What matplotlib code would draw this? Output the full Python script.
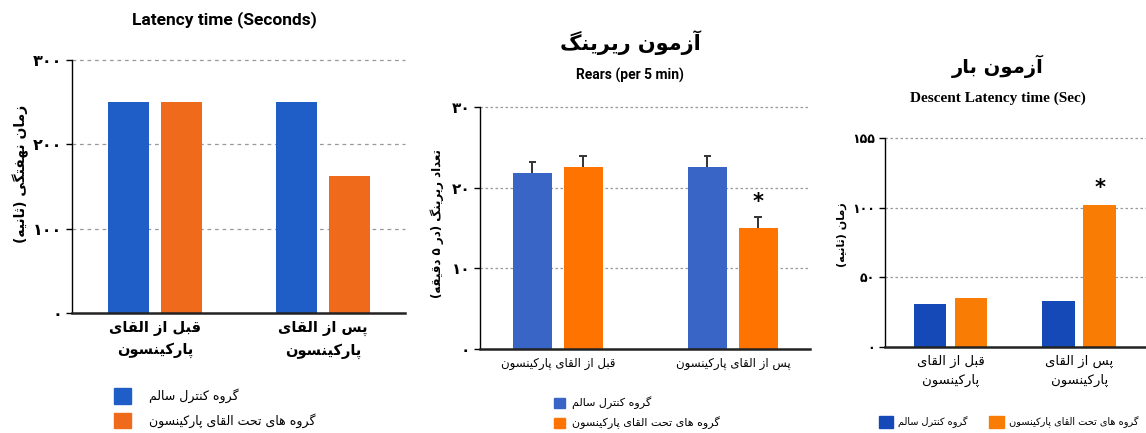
import re
import matplotlib
matplotlib.use('Agg')
import matplotlib.pyplot as plt
from matplotlib.patches import Patch

# data
groups = ['قبل از القای\nپارکینسون', 'پس از القای\nپارکینسون']
groups_one_line = ['قبل از القای پارکینسون', 'پس از القای پارکینسون']
legend_labels = ['گروه کنترل سالم', 'گروه های تحت القای پارکینسون']

latency_control = [250, 250]
latency_pd = [250, 162]
latency_ticks = [0, 100, 200, 300]
latency_tick_labels = ['۰', '۱۰۰', '۲۰۰', '۳۰۰']

rears_control = [21.8, 22.6]
rears_pd = [22.6, 15.0]
rears_control_err = [1.4, 1.3]
rears_pd_err = [1.3, 1.4]
rears_ticks = [0, 10, 20, 30]
rears_tick_labels = ['۰', '۱۰', '۲۰', '۳۰']

bar_control = [30.9, 33.0]
bar_pd = [35.2, 102.0]
bar_ticks = [0, 50, 100, 150]
bar_tick_labels = ['۰', '۵۰', '۱۰۰', '۱۵۵']

# --- tiny arabic/persian shaper (matplotlib has no shaping, no bidi) ---
# isolated, final, initial, medial
FORMS = {
    '\u0622': ('\uFE81', '\uFE82', None, None),
    '\u0627': ('\uFE8D', '\uFE8E', None, None),
    '\u0628': ('\uFE8F', '\uFE90', '\uFE91', '\uFE92'),
    '\u067E': ('\uFB56', '\uFB57', '\uFB58', '\uFB59'),
    '\u062A': ('\uFE95', '\uFE96', '\uFE97', '\uFE98'),
    '\u062B': ('\uFE99', '\uFE9A', '\uFE9B', '\uFE9C'),
    '\u062D': ('\uFEA1', '\uFEA2', '\uFEA3', '\uFEA4'),
    '\u062F': ('\uFEA9', '\uFEAA', None, None),
    '\u0631': ('\uFEAD', '\uFEAE', None, None),
    '\u0632': ('\uFEAF', '\uFEB0', None, None),
    '\u0633': ('\uFEB1', '\uFEB2', '\uFEB3', '\uFEB4'),
    '\u0639': ('\uFEC9', '\uFECA', '\uFECB', '\uFECC'),
    '\u0641': ('\uFED1', '\uFED2', '\uFED3', '\uFED4'),
    '\u0642': ('\uFED5', '\uFED6', '\uFED7', '\uFED8'),
    '\u06A9': ('\uFB8E', '\uFB8F', '\uFB90', '\uFB91'),
    '\u06AF': ('\uFB92', '\uFB93', '\uFB94', '\uFB95'),
    '\u0644': ('\uFEDD', '\uFEDE', '\uFEDF', '\uFEE0'),
    '\u0645': ('\uFEE1', '\uFEE2', '\uFEE3', '\uFEE4'),
    '\u0646': ('\uFEE5', '\uFEE6', '\uFEE7', '\uFEE8'),
    '\u0647': ('\uFEE9', '\uFEEA', '\uFEEB', '\uFEEC'),
    '\u0648': ('\uFEED', '\uFEEE', None, None),
    '\u06CC': ('\uFBFC', '\uFBFD', '\uFBFE', '\uFBFF'),
}
MIRROR = str.maketrans('()', ')(')
DIGITS = '0-9\u06F0-\u06F9'


def shape_line(text):
    out = []
    for i, ch in enumerate(text):
        if ch not in FORMS:
            out.append(ch)
            continue
        f = FORMS[ch]
        prev = text[i - 1] if i > 0 else ''
        nxt = text[i + 1] if i < len(text) - 1 else ''
        jp = prev in FORMS and FORMS[prev][2] is not None
        jn = nxt in FORMS and f[2] is not None
        if jp and jn:
            out.append(f[3])
        elif jp:
            out.append(f[1])
        elif jn:
            out.append(f[2])
        else:
            out.append(f[0])
    s = ''.join(out)
    runs = re.findall('[' + DIGITS + ']+|[^' + DIGITS + ']+', s)
    res = []
    for r in reversed(runs):
        if re.match('[' + DIGITS + ']', r):
            res.append(r)
        else:
            res.append(r[::-1].translate(MIRROR))
    return ''.join(res)


def fa(text):
    return '\n'.join(shape_line(t) for t in text.split('\n'))


FA = 'DejaVu Sans'
W, H = 1146, 433


def px_rect(left, right, top, bottom):
    return [left / W, 1 - bottom / H, (right - left) / W, (bottom - top) / H]


def style_axes(ax, ticks, tick_labels, tick_size, grid_style):
    for s in ['top', 'right']:
        ax.spines[s].set_visible(False)
    ax.spines['left'].set_linewidth(1.0)
    ax.spines['bottom'].set_linewidth(1.8)
    ax.spines['bottom'].set_color('#222222')
    ax.set_yticks(ticks)
    ax.set_yticklabels(tick_labels, fontsize=tick_size, fontfamily=FA, fontweight='bold')
    ax.tick_params(axis='y', length=4, width=1, pad=3)
    ax.tick_params(axis='x', length=0, pad=6)
    ax.set_ylim(ticks[0], ticks[-1])
    ax.set_axisbelow(True)
    for t in ticks[1:]:
        ax.axhline(t, color='#9a9a9a', lw=0.9, ls=grid_style, zorder=0, clip_on=False)


def error_caps(ax, xs, vals, errs):
    # upper half only, like the reference
    tops = [v + e for v, e in zip(vals, errs)]
    ax.vlines(xs, vals, tops, color='#333333', lw=1.4, zorder=3)
    ax.hlines(tops, [p - 0.022 for p in xs], [p + 0.022 for p in xs], color='#333333', lw=1.4, zorder=3)


fig = plt.figure(figsize=(W / 100, H / 100), dpi=100)
fig.patch.set_facecolor('white')
x = [0, 1]

# ---------------- panel 1 ----------------
blue1, orange1 = '#1f5ec6', '#f06a1c'
ax1 = fig.add_axes(px_rect(72, 405, 60, 313))
ax1.bar([i - 0.157 for i in x], latency_control, 0.244, color=blue1)
ax1.bar([i + 0.157 for i in x], latency_pd, 0.244, color=orange1)
ax1.set_xlim(-0.494, 1.488)
style_axes(ax1, latency_ticks, latency_tick_labels, 11.5, (0, (3, 3)))
ax1.set_xticks(x)
ax1.set_xticklabels([fa(g) for g in groups], fontfamily=FA, fontweight='bold', fontsize=10.5,
                    linespacing=1.5)
ax1.set_ylabel(fa('زمان نهفتگی (ثانیه)'), fontfamily=FA, fontweight='bold', fontsize=10)
ax1.yaxis.set_label_coords(-0.13, 0.55)
fig.text(224 / W, 1 - 20 / H, 'Latency time (Seconds)', fontfamily='Roboto', fontweight='bold',
         fontsize=12.5, ha='center', va='center')
h1 = [Patch(color=blue1), Patch(color=orange1)]
ax1.legend(h1, [fa(l) for l in legend_labels], loc='upper left', bbox_to_anchor=(108 / W, 1 - 382 / H),
           bbox_transform=fig.transFigure, frameon=False, borderpad=0, handlelength=1.35,
           handleheight=1.5, handletextpad=1.4, labelspacing=0.75,
           prop={'family': FA, 'size': 9})

# ---------------- panel 2 ----------------
blue2, orange2 = '#3865c6', '#ff7400'
ax2 = fig.add_axes(px_rect(480, 810, 107, 349))
xb = [i - 0.146 for i in x]
xo = [i + 0.143 for i in x]
ax2.bar(xb, rears_control, 0.223, color=blue2)
ax2.bar(xo, rears_pd, 0.223, color=orange2)
error_caps(ax2, xb, rears_control, rears_control_err)
error_caps(ax2, xo, rears_pd, rears_pd_err)
ax2.set_xlim(-0.446, 1.44)
style_axes(ax2, rears_ticks, rears_tick_labels, 11, (0, (2, 2)))
ax2.set_xticks(x)
ax2.set_xticklabels([fa(g) for g in groups_one_line], fontfamily=FA, fontsize=8.5)
ax2.set_ylabel(fa('تعداد ریرینگ (در ۵ دقیقه)'), fontfamily=FA, fontweight='bold', fontsize=8.5)
ax2.yaxis.set_label_coords(-0.11, 0.52)
ax2.text(xo[1], rears_pd[1] + rears_pd_err[1] + 1.8, '*', ha='center', va='center',
         fontsize=15, fontweight='bold')
fig.text(630 / W, 1 - 43 / H, fa('آزمون ریرینگ'), fontfamily=FA, fontweight='bold',
         fontsize=15, ha='center', va='center')
fig.text(630 / W, 1 - 75 / H, 'Rears (per 5 min)', fontfamily='Roboto', fontweight='bold',
         fontsize=10, ha='center', va='center')
h2 = [Patch(color=blue2), Patch(color=orange2)]
ax2.legend(h2, [fa(l) for l in legend_labels], loc='upper left', bbox_to_anchor=(548 / W, 1 - 391 / H),
           bbox_transform=fig.transFigure, frameon=False, borderpad=0, handlelength=1.0,
           handleheight=1.0, handletextpad=0.7, labelspacing=0.65,
           prop={'family': FA, 'size': 8})

# ---------------- panel 3 ----------------
blue3, orange3 = '#1549b8', '#f97c05'
ax3 = fig.add_axes(px_rect(885, 1146, 138, 347))
ax3.bar([i - 0.16 for i in x], bar_control, 0.253, color=blue3)
ax3.bar([i + 0.16 for i in x], bar_pd, 0.253, color=orange3)
ax3.set_xlim(-0.51, 1.52)
style_axes(ax3, bar_ticks, bar_tick_labels, 9, (0, (2, 2)))
ax3.set_xticks(x)
ax3.set_xticklabels([fa(g) for g in groups], fontfamily=FA, fontsize=9.5, linespacing=1.5)
ax3.set_ylabel(fa('زمان (ثانیه)'), fontfamily=FA, fontweight='bold', fontsize=8)
ax3.yaxis.set_label_coords(-0.145, 0.536)
ax3.text(1 + 0.16, bar_pd[1] + 12, '*', ha='center', va='center', fontsize=15, fontweight='bold')
fig.text(998 / W, 1 - 66 / H, fa('آزمون بار'), fontfamily=FA, fontweight='bold',
         fontsize=14, ha='center', va='center')
fig.text(998 / W, 1 - 98 / H, 'Descent Latency time (Sec)', fontfamily='Liberation Serif',
         fontweight='bold', fontsize=11, ha='center', va='center')
h3 = [Patch(color=blue3), Patch(color=orange3)]
ax3.legend(h3, [fa(l) for l in legend_labels], loc='upper left', bbox_to_anchor=(874 / W, 1 - 411 / H),
           bbox_transform=fig.transFigure, frameon=False, borderpad=0, ncol=2, handlelength=1.5,
           handleheight=1.5, handletextpad=0.5, columnspacing=2.2,
           prop={'family': FA, 'size': 7})

fig.savefig('out.png', dpi=100, facecolor='white')
